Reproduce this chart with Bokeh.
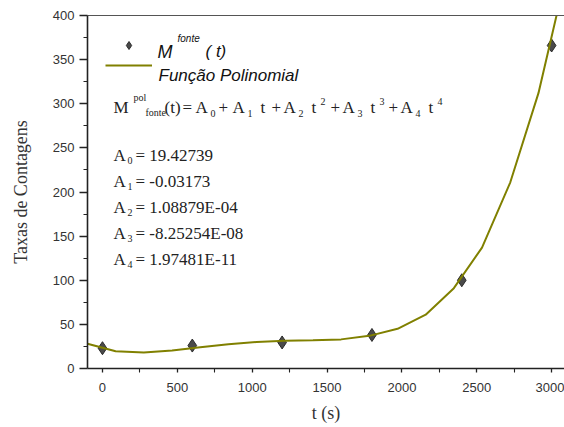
from bokeh.plotting import figure
from bokeh.models import Label, Legend, LegendItem, LinearAxis, FixedTicker, Range1d
from bokeh.embed import file_html
from bokeh.resources import INLINE

# ---- data ----
t_data = [0, 600, 1200, 1800, 2400, 3000]
m_fonte = [23, 26, 29.5, 38, 100, 366]

t_fit = [-100, 88, 276, 465, 653, 841, 1029, 1218, 1406, 1594, 1782,
         1971, 2159, 2347, 2535, 2724, 2912, 3100]
m_fit = [28, 19.5, 18, 20.5, 24, 27.5, 30, 31.5, 32, 33, 37,
         45, 61, 91, 137, 211, 312, 449]

x_ticks = [0, 500, 1000, 1500, 2000, 2500, 3000]
x_minor = [250, 750, 1250, 1750, 2250, 2750]
y_ticks = [0, 50, 100, 150, 200, 250, 300, 350, 400]
y_minor = [25, 75, 125, 175, 225, 275, 325, 375]

coef_names = ["0", "1", "2", "3", "4"]
coef_values = ["19.42739", "-0.03173", "1.08879E-04", "-8.25254E-08", "1.97481E-11"]

legend_labels = ["M", "Função Polinomial"]
x_label = "t (s)"
y_label = "Taxas de Contagens"

OLIVE = "#808000"
SERIF = "Liberation Serif"
SANS = "Liberation Sans"

# frame geometry (in picture pixels)
FL, FT, FW, FH = 87, 15, 477, 353

p = figure(frame_width=FW, frame_height=FH, min_border_left=FL,
           min_border_top=FT, min_border_right=0, min_border_bottom=10,
           x_range=Range1d(-100, 3086), y_range=Range1d(0, 400),
           output_backend="svg", toolbar_location=None,
           x_axis_label=x_label, y_axis_label=y_label)
p.outline_line_color = None
p.xgrid.visible = False
p.ygrid.visible = False
p.background_fill_color = "white"
p.border_fill_color = "white"

for ax in (p.xaxis[0], p.yaxis[0]):
    ax.axis_line_color = "#222"
    ax.axis_line_width = 1.6
    ax.major_tick_line_color = "#222"
    ax.minor_tick_line_color = "#222"
    ax.major_tick_line_width = 1.3
    ax.minor_tick_line_width = 1.1
    ax.major_tick_in = 0
    ax.minor_tick_in = 0
    ax.major_label_text_font = SANS
    ax.major_label_text_font_size = "13px"
    ax.major_label_text_color = "#333"
    ax.axis_label_text_font = SERIF
    ax.axis_label_text_font_style = "normal"
    ax.axis_label_text_font_size = "18px"
    ax.axis_label_text_color = "#333"

p.xaxis[0].ticker = FixedTicker(ticks=x_ticks, minor_ticks=x_minor)
p.yaxis[0].ticker = FixedTicker(ticks=y_ticks, minor_ticks=y_minor)
p.xaxis[0].major_tick_out = 4
p.xaxis[0].minor_tick_out = 4
p.xaxis[0].major_label_standoff = 10
p.xaxis[0].axis_label_standoff = 8
p.yaxis[0].major_tick_out = 8
p.yaxis[0].minor_tick_out = 4
p.yaxis[0].major_label_standoff = 5
p.yaxis[0].axis_label_standoff = 19

top_axis = LinearAxis(ticker=FixedTicker(ticks=[], minor_ticks=[]),
                      axis_line_color="#555", axis_line_width=1.2,
                      major_tick_line_color=None, minor_tick_line_color=None,
                      major_tick_out=0, minor_tick_out=0, major_label_standoff=0)
p.add_layout(top_axis, "above")

sc = p.scatter(t_data, m_fonte, marker="diamond", size=13,
               fill_color="#4a4a4a", line_color="#2a2a2a", line_width=1)
ln = p.line(t_fit, m_fit, line_color=OLIVE, line_width=2)


def key(renderer, left, center_y):
    # legend location tuple = bottom-left corner of the legend box (frame px)
    lg = Legend(items=[LegendItem(label=" ", renderers=[renderer])],
                location=(left - FL, (FT + FH) - center_y - 10), padding=0,
                margin=0, spacing=0, glyph_width=47, glyph_height=20,
                label_height=20, label_width=0, label_standoff=0,
                label_text_font_size="1px", border_line_color=None,
                background_fill_alpha=0)
    p.add_layout(lg, "center")


key(sc, 105, 45)
key(ln, 105, 65)


def put(text, ix, iy, size, font=SERIF, style="normal", color="#222"):
    p.add_layout(Label(x=ix - FL, y=(FT + FH) - iy, x_units="screen",
                       y_units="screen", text=text, text_font=font,
                       text_font_size=f"{size}px", text_font_style=style,
                       text_color=color, text_baseline="alphabetic",
                       text_align="left"))


# legend texts
put(legend_labels[0], 157, 51, 18, SANS, "italic", "#111")
put("fonte", 177, 38, 10, SANS, "italic", "#111")
put("( t)", 205, 51, 17, SANS, "italic", "#111")
put(legend_labels[1], 158, 75, 17, SANS, "italic", "#111")

# formula
MB, SUPB, SUBB = 107, 97, 112
put("M", 113, MB, 17)
put("pol", 133, SUPB, 10)
put("fonte", 145, SUBB, 10)
put("(t)", 164, MB, 17)
put("=", 182, MB, 17)
pieces = [(195, "0", None), (232, "1", ""), (283, "2", "2"), (342, "3", "3"), (400, "4", "4")]
for i, (ax_, sub, sup) in enumerate(pieces):
    if i == 1:
        put("+", ax_ - 14, MB, 17)
    elif i > 1:
        put("+", ax_ - 12, MB, 17)
    put("A", ax_, MB, 17)
    put(sub, ax_ + 15, SUBB + 1, 10)
    if sup is not None:
        put("t", ax_ + 28, MB, 17)
        if sup:
            put(sup, ax_ + 37, SUPB + 4, 10)

# coefficient list
for i, (nm, val) in enumerate(zip(coef_names, coef_values)):
    base = 155 + 26 * i
    put("A", 113, base, 17)
    put(nm, 127, base + 5, 10)
    put("= " + val, 135, base, 17)

open("out.html", "w").write(file_html(p, INLINE))
